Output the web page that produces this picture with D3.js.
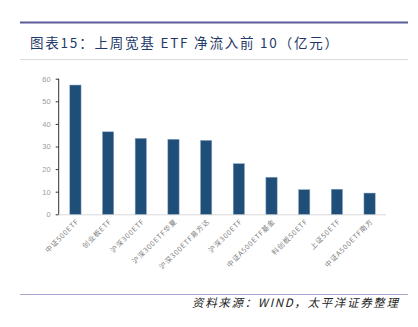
<!DOCTYPE html>
<html><head><meta charset="utf-8">
<script src="https://cdn.jsdelivr.net/npm/d3@7/dist/d3.min.js"></script>
<style>body{margin:0;background:#fff}svg{display:block}</style>
</head><body>
<script>
const categories = ["中证500ETF","创业板ETF","沪深300ETF","沪深300ETF华夏","沪深300ETF易方达","沪深300ETF","中证A500ETF基金","科创板50ETF","上证50ETF","中证A500ETF南方"];
const values = [57.2, 36.5, 33.6, 33.2, 32.7, 22.4, 16.4, 10.9, 11.1, 9.4];
const yTicks = [0,10,20,30,40,50,60];
const title = "图表15：上周宽基 ETF 净流入前 10（亿元）";
const source = "资料来源：WIND，太平洋证券整理";

const W=418,H=327;
const svg=d3.select("body").append("svg").attr("width",W).attr("height",H);
const cjk="'Noto Sans CJK SC','Noto Sans',sans-serif";

svg.append("line").attr("x1",20).attr("x2",408).attr("y1",22.5).attr("y2",22.5).attr("stroke","#5b5b99").attr("stroke-width",2);
svg.append("text").attr("x",30).attr("y",47.5).text(title).attr("font-family",cjk).attr("font-size",13.5).attr("fill","#1f3a68").attr("textLength",308).attr("lengthAdjust","spacing");
svg.append("line").attr("x1",20).attr("x2",408).attr("y1",59.5).attr("y2",59.5).attr("stroke","#dcdcdc").attr("stroke-width",1);

const x=d3.scaleBand().domain(d3.range(categories.length)).range([59,386]).paddingInner(0.655).paddingOuter(0.33);
const y=d3.scaleLinear().domain([0,60]).range([214.3,78.7]);

svg.append("line").attr("x1",59).attr("x2",386).attr("y1",214.8).attr("y2",214.8).attr("stroke","#d9d9d9").attr("stroke-width",1);

svg.selectAll("rect.bar").data(values).enter().append("rect").attr("class","bar")
 .attr("x",(d,i)=>x(i)).attr("width",x.bandwidth()).attr("y",d=>y(d)).attr("height",d=>y(0)-y(d))
 .attr("fill","#1f4e79").attr("stroke","#8fa8c4").attr("stroke-width",0.5);

const ya=svg.append("g").attr("transform","translate(58.7,0)").call(d3.axisLeft(y).tickValues(yTicks).tickSize(3).tickPadding(5));
ya.select(".domain").attr("stroke","#333").attr("d","M0,"+y(60)+"V"+y(0));
ya.selectAll(".tick line").attr("stroke","#333");
ya.selectAll("text").attr("font-family","'Liberation Sans',Arial,sans-serif").attr("font-size",7.5).attr("fill","#9a9a9a");

svg.selectAll("text.xl").data(categories).enter().append("text").attr("class","xl")
 .attr("transform",(d,i)=>`translate(${x(i)+x.bandwidth()/2+4},${222}) rotate(-45)`)
 .attr("text-anchor","end").attr("font-family",cjk).attr("font-size",7).attr("letter-spacing",0.8).attr("fill","#808080").text(d=>d);

svg.append("line").attr("x1",20).attr("x2",408).attr("y1",294.5).attr("y2",294.5).attr("stroke","#a7a7d0").attr("stroke-width",1);
svg.append("text").attr("x",192).attr("y",307).text(source).attr("font-family",cjk).attr("font-size",11.5).attr("font-style","italic").attr("fill","#222").attr("textLength",206).attr("lengthAdjust","spacing");
</script>
</body></html>
